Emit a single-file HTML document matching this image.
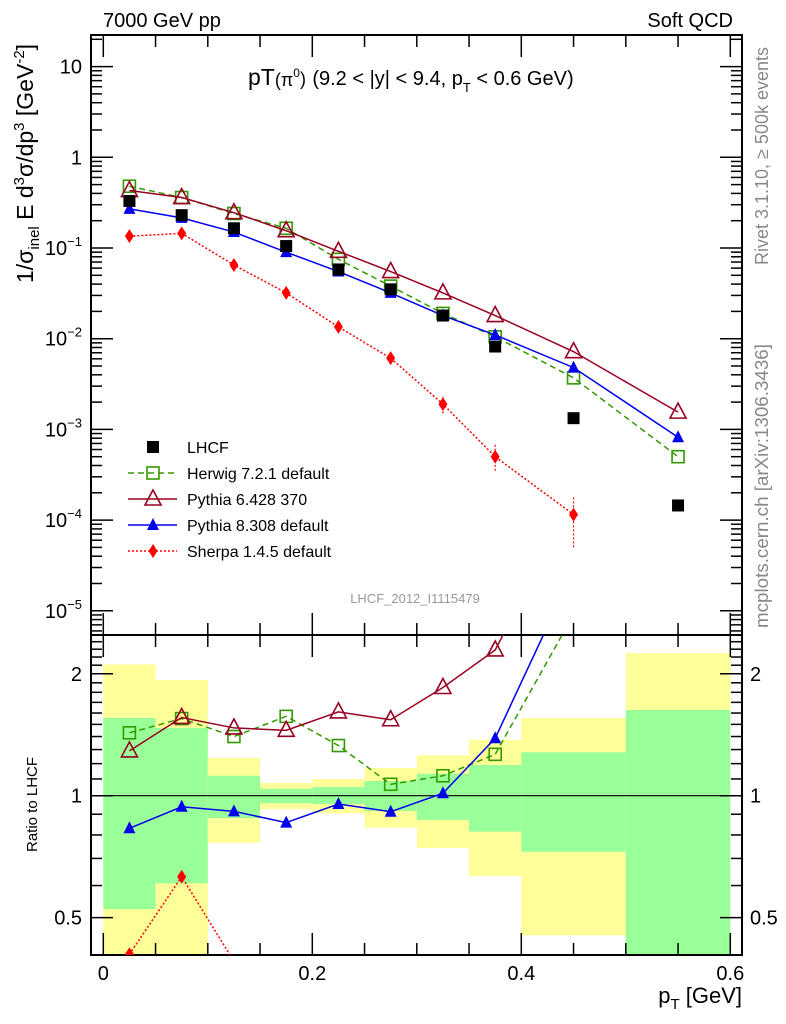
<!DOCTYPE html>
<html style="overflow:hidden;width:786px;height:1024px;"><head><meta charset="utf-8"><style>
html,body{margin:0;padding:0;background:#fff;overflow:hidden;width:786px;height:1024px;}
svg{display:block;font-family:"Liberation Sans",Arial,sans-serif;overflow:hidden;}
</style></head><body>
<svg id="chart" width="786" height="1024" viewBox="0 0 786 1024" xmlns="http://www.w3.org/2000/svg">
<defs>
<clipPath id="clipTop"><rect x="91" y="35" width="651" height="600"/></clipPath>
<clipPath id="clipBot"><rect x="91" y="635" width="651" height="320"/></clipPath>
</defs>
<g id="bands" clip-path="url(#clipBot)"></g>
<g id="axes"></g>
<g id="seriesTop" clip-path="url(#clipTop)"></g>
<g id="seriesBot" clip-path="url(#clipBot)"></g>
<g id="texts">
<text x="103" y="27" font-size="20">7000 GeV pp</text>
<text x="733" y="27" font-size="20" text-anchor="end">Soft QCD</text>
<text x="248" y="85" font-size="23">pT<tspan font-size="18" dy="1">(π</tspan><tspan font-size="12" dy="-9">0</tspan><tspan font-size="18" dy="8">)</tspan> <tspan font-size="20">(9.2 &lt; |y| &lt; 9.4, p</tspan><tspan font-size="13" dy="7">T</tspan><tspan font-size="20" dy="-7"> &lt; 0.6 GeV)</tspan></text>
<text x="415" y="603" font-size="13" fill="#999" text-anchor="middle">LHCF_2012_I1115479</text>
<text transform="translate(768,265) rotate(-90)" font-size="18" fill="#888">Rivet 3.1.10, ≥ 500k events</text>
<text transform="translate(768,628) rotate(-90)" font-size="18.8" fill="#888">mcplots.cern.ch [arXiv:1306.3436]</text>
<text transform="translate(33,283) rotate(-90)" font-size="23">1/σ<tspan font-size="15" dy="6">inel</tspan><tspan dy="-6"> E d</tspan><tspan font-size="15" dy="-9">3</tspan><tspan dy="9">σ/dp</tspan><tspan font-size="15" dy="-9">3</tspan><tspan dy="9"> [GeV</tspan><tspan font-size="15" dy="-9">-2</tspan><tspan dy="9">]</tspan></text>
<text transform="translate(37,852) rotate(-90)" font-size="15">Ratio to LHCF</text>
<text x="742" y="1003" font-size="22" text-anchor="end">p<tspan font-size="15" dy="6">T</tspan><tspan dy="-6"> [GeV]</tspan></text>
</g>
<g id="legend"></g>
</svg>
<script>
const binLo = [0,0.05,0.1,0.15,0.2,0.25,0.3,0.35,0.4,0.5];
const binHi = [0.05,0.1,0.15,0.2,0.25,0.3,0.35,0.4,0.5,0.6];
const xCenters = [0.025,0.075,0.125,0.175,0.225,0.275,0.325,0.375,0.45,0.55];
const lhcf = [0.33,0.23,0.165,0.105,0.058,0.035,0.018,0.0082,0.00133,0.000145];
const herwig = [0.48,0.36,0.24,0.165,0.075,0.038,0.019,0.0105,0.0037,0.0005];
const pythia6 = [0.43,0.36,0.245,0.155,0.092,0.055,0.032,0.018,0.0072,0.00155];
const pythia8 = [0.27,0.215,0.15,0.09,0.055,0.032,0.018,0.011,0.0048,0.00082];
const sherpa = [0.135,0.145,0.065,0.032,0.0135,0.0061,0.0019,0.0005,0.000115];
const sherpaErrLo = [0.12,0.13,0.06,0.03,0.0125,0.0054,0.0015,0.00035,0.00005];
const sherpaErrHi = [0.15,0.16,0.07,0.034,0.0145,0.0068,0.0023,0.0007,0.00018];
const rHerwig = [1.43,1.55,1.40,1.57,1.33,1.067,1.12,1.265,2.8,3.4];
const rPythia6 = [1.29,1.56,1.47,1.45,1.61,1.54,1.85,2.29,5.4,10.7];
const rPythia8 = [0.831,0.939,0.915,0.858,0.954,0.913,1.014,1.386,3.6,5.6];
const rSherpa = [0.406,0.631,0.39,0.3,0.23,0.17,0.1,0.06,0.086];
const yellowHi = [2.11,1.93,1.24,1.075,1.1,1.17,1.258,1.375,1.555,2.25];
const yellowLo = [0.3,0.3,0.765,0.926,0.905,0.834,0.743,0.633,0.452,0.3];
const greenHi = [1.557,1.47,1.12,1.04,1.05,1.087,1.133,1.19,1.28,1.628];
const greenLo = [0.525,0.608,0.88,0.958,0.954,0.917,0.871,0.815,0.727,0.3];
const xTicks = [0,0.2,0.4,0.6];
const xTickLabels = ["0","0.2","0.4","0.6"];
const yDecades = [1,0,-1,-2,-3,-4,-5];
const rTicks = [0.5,1,2];
const rTickLabels = ["0.5","1","2"];

const NS="http://www.w3.org/2000/svg";
const L=91,R=742,T=35,MID=635,B=955;
const X=v=>103.3+v*1045;
const Y=v=>157.3-90.7*Math.log10(v);
const RY=v=>795.7-405*Math.log10(v);
function mk(tag,attrs,parent){const e=document.createElementNS(NS,tag);for(const k in attrs)e.setAttribute(k,attrs[k]);parent.appendChild(e);return e;}
const axes=document.getElementById('axes'),bands=document.getElementById('bands');
const gT=document.getElementById('seriesTop'),gB=document.getElementById('seriesBot'),leg=document.getElementById('legend');

for(let i=0;i<binLo.length;i++){
  let r=mk('rect',{x:X(binLo[i]),y:RY(yellowHi[i]),width:X(binHi[i])-X(binLo[i]),height:RY(yellowLo[i])-RY(yellowHi[i]),fill:'#ffff99'},bands);
  
  
  let g=mk('rect',{x:X(binLo[i]),y:RY(greenHi[i]),width:X(binHi[i])-X(binLo[i]),height:RY(greenLo[i])-RY(greenHi[i]),fill:'#99ff99'},bands);
  
  
}
mk('line',{x1:L,x2:R,y1:RY(1),y2:RY(1),stroke:'#000','stroke-width':1.2},bands);

let f1=mk('rect',{x:L,y:T,width:R-L,height:MID-T,fill:'none',stroke:'#000','stroke-width':2},axes);


let f2=mk('rect',{x:L,y:MID,width:R-L,height:B-MID,fill:'none',stroke:'#000','stroke-width':2},axes);


for(let k=0;k<=12;k++){const v=k*0.05,x=X(v),big=(k%4===0);const len=big?22:12;
  [[T,1],[MID,-1],[MID,1],[B,-1]].forEach(([y0,d])=>mk('line',{x1:x,x2:x,y1:y0,y2:y0+d*len,stroke:'#000','stroke-width':1.5},axes));}
xTicks.forEach((v,i)=>{const t=mk('text',{x:X(v),y:980,'font-size':20,'text-anchor':'middle'},axes);t.textContent=xTickLabels[i];
  
  });
for(let d=-6;d<=1;d++){for(let m=1;m<=9;m++){const v=m*Math.pow(10,d),y=Y(v);if(y<T||y>MID)continue;const len=m===1?22:11;
  mk('line',{x1:L,x2:L+len,y1:y,y2:y,stroke:'#000','stroke-width':1.5},axes);mk('line',{x1:R,x2:R-len,y1:y,y2:y,stroke:'#000','stroke-width':1.5},axes);}}
yDecades.forEach(d=>{const y=Y(Math.pow(10,d))+7;const t=mk('text',{x:82,y:y,'font-size':20,'text-anchor':'end'},axes);
  
  
  if(d===1)t.textContent='10';else if(d===0)t.textContent='1';else{t.innerHTML='10<tspan font-size="13" dy="-9">−'+(-d)+'</tspan>';}});
for(let k=4;k<=24;k++){const v=k/10;const y=RY(v);if(y<MID||y>B)continue;const big=rTicks.includes(v);const len=big?22:11;
  mk('line',{x1:L,x2:L+len,y1:y,y2:y,stroke:'#000','stroke-width':1.5},axes);mk('line',{x1:R,x2:R-len,y1:y,y2:y,stroke:'#000','stroke-width':1.5},axes);}
rTicks.forEach((v,i)=>{[[82,'end'],[750,'start']].forEach(([x,a])=>{const t=mk('text',{x:x,y:RY(v)+7,'font-size':20,'text-anchor':a},axes);t.textContent=rTickLabels[i];
  
  });});

function marker(g,type,x,y,color){
  if(type==='sq')return mk('rect',{x:x-6,y:y-6,width:12,height:12,fill:'#000'},g);
  if(type==='osq')return mk('rect',{x:x-6,y:y-6,width:12,height:12,fill:'none',stroke:color,'stroke-width':1.6},g);
  if(type==='otri')return mk('path',{d:`M${x},${y-9}L${x+8},${y+6}L${x-8},${y+6}Z`,fill:'none',stroke:color,'stroke-width':1.6},g);
  if(type==='tri')return mk('path',{d:`M${x},${y-7}L${x+6},${y+5}L${x-6},${y+5}Z`,fill:color},g);
  if(type==='dia')return mk('path',{d:`M${x},${y-7}L${x+4.5},${y}L${x},${y+7}L${x-4.5},${y}Z`,fill:color},g);
}
const series=[
 {name:'herwig',vals:herwig,ratio:rHerwig,color:'#339900',dash:'6,4',m:'osq',label:'Herwig 7.2.1 default'},
 {name:'pythia6',vals:pythia6,ratio:rPythia6,color:'#990022',dash:'',m:'otri',label:'Pythia 6.428 370'},
 {name:'pythia8',vals:pythia8,ratio:rPythia8,color:'#0000ee',dash:'',m:'tri',label:'Pythia 8.308 default'},
 {name:'sherpa',vals:sherpa,ratio:rSherpa,color:'#ff0000',dash:'2,2',m:'dia',label:'Sherpa 1.4.5 default'}];
sherpa.forEach((v,i)=>{const e=mk('line',{x1:X(xCenters[i]),x2:X(xCenters[i]),y1:Y(sherpaErrLo[i]),y2:Y(sherpaErrHi[i]),stroke:'#ff0000','stroke-width':1.2,'stroke-dasharray':'2,2'},gT);
  
  });
series.forEach(s=>{
  const pts=s.vals.map((v,i)=>X(xCenters[i])+','+Y(v)).join(' ');
  const pl=mk('polyline',{points:pts,fill:'none',stroke:s.color,'stroke-width':1.5,'stroke-dasharray':s.dash},gT);
  
  
  s.vals.forEach((v,i)=>{const m=marker(gT,s.m,X(xCenters[i]),Y(v),s.color);
    
    });
  const rp=s.ratio.map((v,i)=>X(xCenters[i])+','+RY(v)).join(' ');
  const rl=mk('polyline',{points:rp,fill:'none',stroke:s.color,'stroke-width':1.5,'stroke-dasharray':s.dash},gB);
  
  
  s.ratio.forEach((v,i)=>{const m=marker(gB,s.m,X(xCenters[i]),RY(v),s.color);
    
    });
});
lhcf.forEach((v,i)=>{const m=marker(gT,'sq',X(xCenters[i]),Y(v),'#000');
  
  });

const legY=[447,473,499,525,551];
const legItems=[{m:'sq',color:'#000',dash:null,label:'LHCF'}].concat(series);
legItems.forEach((s,i)=>{const y=legY[i];
  if(s.dash!==null&&s.dash!==undefined){mk('line',{x1:128,x2:177,y1:y,y2:y,stroke:s.color,'stroke-width':1.5,'stroke-dasharray':s.dash},leg);}
  marker(leg,s.m,153,y,s.color);
  const t=mk('text',{x:187,y:y+6,'font-size':16},leg);t.textContent=s.label;
  
  });
</script>
</body></html>
